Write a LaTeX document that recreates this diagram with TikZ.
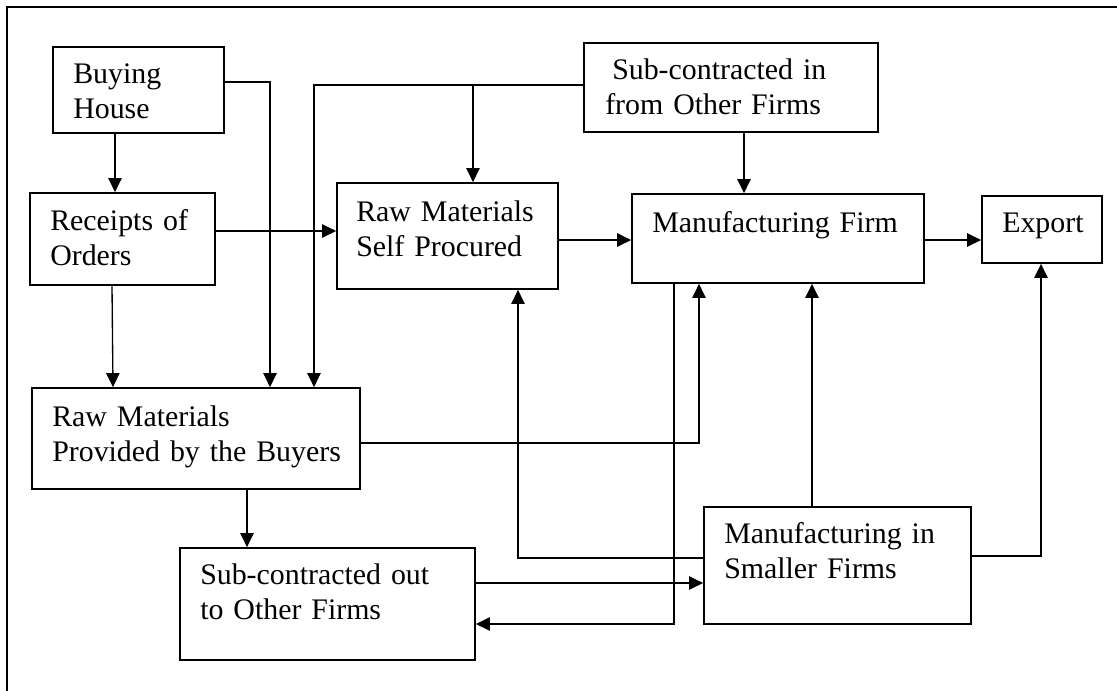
\documentclass[tikz,border=0pt]{standalone}
\usepackage{fontspec}
\setmainfont{Liberation Serif}
\usetikzlibrary{arrows.meta,fit}
\begin{document}
\begin{tikzpicture}[x=0.75pt,y=-0.75pt,
  box/.style={draw, line width=1.3pt, inner sep=0pt},
  txt/.style={anchor=base west, inner sep=0pt, align=left, text width=300pt,
              font=\fontsize{22.4pt}{26.25pt}\selectfont},
  arr/.style={line width=1pt, -{Triangle[length=10.5pt,width=10pt]}},
  ln/.style={line width=1pt}]
\useasboundingbox (0,0) rectangle (1117,690);
\begin{scope}
  \clip (0,0) rectangle (1117,690);
  \draw[line width=2pt] (7,7) rectangle (1140,710);
\end{scope}

% boxes
\node[box, fit={(53,47) (224,133)}] (bh) {};
\node[box, fit={(30,193) (215,285)}] (ro) {};
\node[box, fit={(337,183) (558,289)}] (rms) {};
\node[box, fit={(584,43) (878,132)}] (subin) {};
\node[box, fit={(632,194) (924,283)}] (mf) {};
\node[box, fit={(982,196) (1102,263)}] (exp) {};
\node[box, fit={(32,388) (360,489)}] (rmp) {};
\node[box, fit={(180,548) (475,660)}] (subout) {};
\node[box, fit={(704,507) (971,624)}] (msf) {};

% texts
\node[txt] (bhT) at (73,83) {Buying\\House};
\node[txt] (roT) at (50,230) {Receipts of\\Orders};
\node[txt] (rmsT) at (356,221) {Raw Materials\\Self Procured};
\node[txt] (subinT) at (605,79) {\hspace*{5.25pt}Sub-contracted in\\from Other Firms};
\node[txt] (mfT) at (652,232) {Manufacturing Firm};
\node[txt] (expT) at (1002,232) {Export};
\node[txt] (rmpT) at (52,426) {Raw Materials\\Provided by the Buyers};
\node[txt] (suboutT) at (200,584) {Sub-contracted out\\to Other Firms};
\node[txt] (msfT) at (724,543) {Manufacturing in\\Smaller Firms};

% connectors
\draw[arr] (bh.south -| 115,0) -- (ro.north -| 115,0);
\draw[arr] (bh.east |- 0,82) -| (rmp.north -| 270,0);
\draw[arr] (subin.west |- 0,85) -| (rmp.north -| 314,0);
\coordinate (j1) at (473,85);
\draw[arr] (j1) -- (rms.north -| j1);
\draw[arr] (ro.east |- 0,231) -- (rms.west |- 0,231);
\draw[arr] (ro.south -| 112,0) -- (rmp.north -| 113,0);
\draw[arr] (rms.east |- 0,240) -- (mf.west |- 0,240);
\draw[arr] (subin.south -| 744,0) -- (mf.north -| 744,0);
\draw[arr] (mf.east |- 0,240) -- (exp.west |- 0,240);
\draw[arr] (rmp.east |- 0,443) -| (mf.south -| 699,0);
\draw[arr] (mf.south -| 674,0) |- (subout.east |- 0,624);
\draw[arr] (rmp.south -| 247,0) -- (subout.north -| 247,0);
\draw[arr] (subout.east |- 0,583) -- (msf.west |- 0,583);
\draw[arr] (msf.west |- 0,558) -| (rms.south -| 518,0);
\draw[arr] (msf.north -| 812,0) -- (mf.south -| 812,0);
\draw[arr] (msf.east |- 0,556) -| (exp.south -| 1041,0);
\end{tikzpicture}
\end{document}
